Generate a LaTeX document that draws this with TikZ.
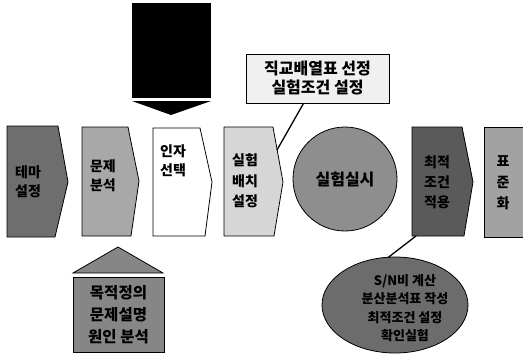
\documentclass[tikz,border=0pt]{standalone}
\usepackage{fontspec}
\setmainfont{Noto Sans CJK KR}
\usetikzlibrary{shapes.geometric}
\definecolor{cA}{HTML}{6E6E6E}
\definecolor{cB}{HTML}{A8A8A8}
\definecolor{cD}{HTML}{D6D6D6}
\definecolor{cE}{HTML}{8E8E8E}
\definecolor{cF}{HTML}{5A5A5A}
\definecolor{cG}{HTML}{A2A2A2}
\definecolor{cH}{HTML}{868686}
\definecolor{cI}{HTML}{6C6C6C}
\definecolor{cJ}{HTML}{F0F0F0}
\tikzset{
  shp/.style={draw=black, line width=0.8pt},
  lbl/.style={align=center, font=\bfseries\fontsize{14}{19}\selectfont, inner sep=0pt},
  conn/.style={draw=black, line width=1.3pt}
}
\begin{document}
\begin{tikzpicture}[x=1pt,y=-1pt]
\useasboundingbox (0,0) rectangle (523,354);
% black arrow
\fill[black] (132,3) rectangle (211,98);
\fill[black] (132,101) -- (211,101) -- (171,115) -- cycle;
% chevrons
\path[shp, fill=cA] (7,126) -- (58,126) -- (68,182) -- (55,237) -- (7,237) -- cycle;
\path[shp, fill=cB] (82,127) -- (128,127) -- (139,181) -- (131,236) -- (82,236) -- cycle;
\path[shp, fill=white] (153,128) -- (200,128) -- (212,182) -- (205,236) -- (153,236) -- cycle;
\path[shp, fill=cD] (224,127) -- (273,127) -- (283,182) -- (274,236) -- (224,236) -- cycle;
\path[shp, fill=cF] (412,127) -- (462,127) -- (473,182) -- (464,236) -- (412,236) -- cycle;
\path[shp, fill=cG] (484,127) -- (527,127) -- (527,237) -- (484,237) -- cycle;
\coordinate (c4edge) at (277,150);
\coordinate (c6bot) at (416,236);
% chevron labels
\node[lbl] (t1) at (28,182) {테마\\설정};
\node[lbl] (t2) at (103,176) {문제\\분석};
\node[lbl] (t3) at (173,161) {인자\\선택};
\node[lbl, font=\bfseries\fontsize{14}{20.5}\selectfont] (t4) at (245,181) {실험\\배치\\설정};
\node[lbl, font=\bfseries\fontsize{14}{20}\selectfont] (t6) at (437,182) {최적\\조건\\적용};
\node[lbl, font=\bfseries\fontsize{14}{21}\selectfont] (t7) at (503,183) {표\\준\\화};
% circle
\node[circle, shp, fill=cE, minimum size=104pt, inner sep=0pt] (circ) at (345,179) {};
\node[lbl, font=\bfseries\fontsize{16}{18}\selectfont] (t5) at (345,179) {실험실시};
% callout
\node[shp, fill=cJ, minimum width=143pt, minimum height=49pt, inner sep=0pt,
      align=center, font=\bfseries\fontsize{16}{19}\selectfont] (call) at (317.5,78.5) {직교배열표 선정\\실험조건 설정};
\draw[conn] ([xshift=-14pt]call.south) -- (c4edge);
% house
\path[shp, fill=cH] (73,273) -- (163,273) -- (118,247) -- cycle;
\node[shp, fill=cH, minimum width=91pt, minimum height=75pt, inner sep=0pt,
      align=center, font=\bfseries\fontsize{15.5}{22}\selectfont] (house) at (118.5,314.5) {목적정의\\문제설명\\원인 분석};
% ellipse
\node[ellipse, shp, fill=cI, minimum width=146pt, minimum height=96pt, inner sep=0pt] (ell) at (395,305) {};
\node[lbl, font=\bfseries\fontsize{13}{18.5}\selectfont] (t8) at (405,308) {S/N비 계산\\분산분석표 작성\\최적조건 설정\\확인실험};
\coordinate (ellt) at ([xshift=-7pt,yshift=-1pt]ell.north);
\draw[conn] (ellt) -- (c6bot);
\end{tikzpicture}
\end{document}
